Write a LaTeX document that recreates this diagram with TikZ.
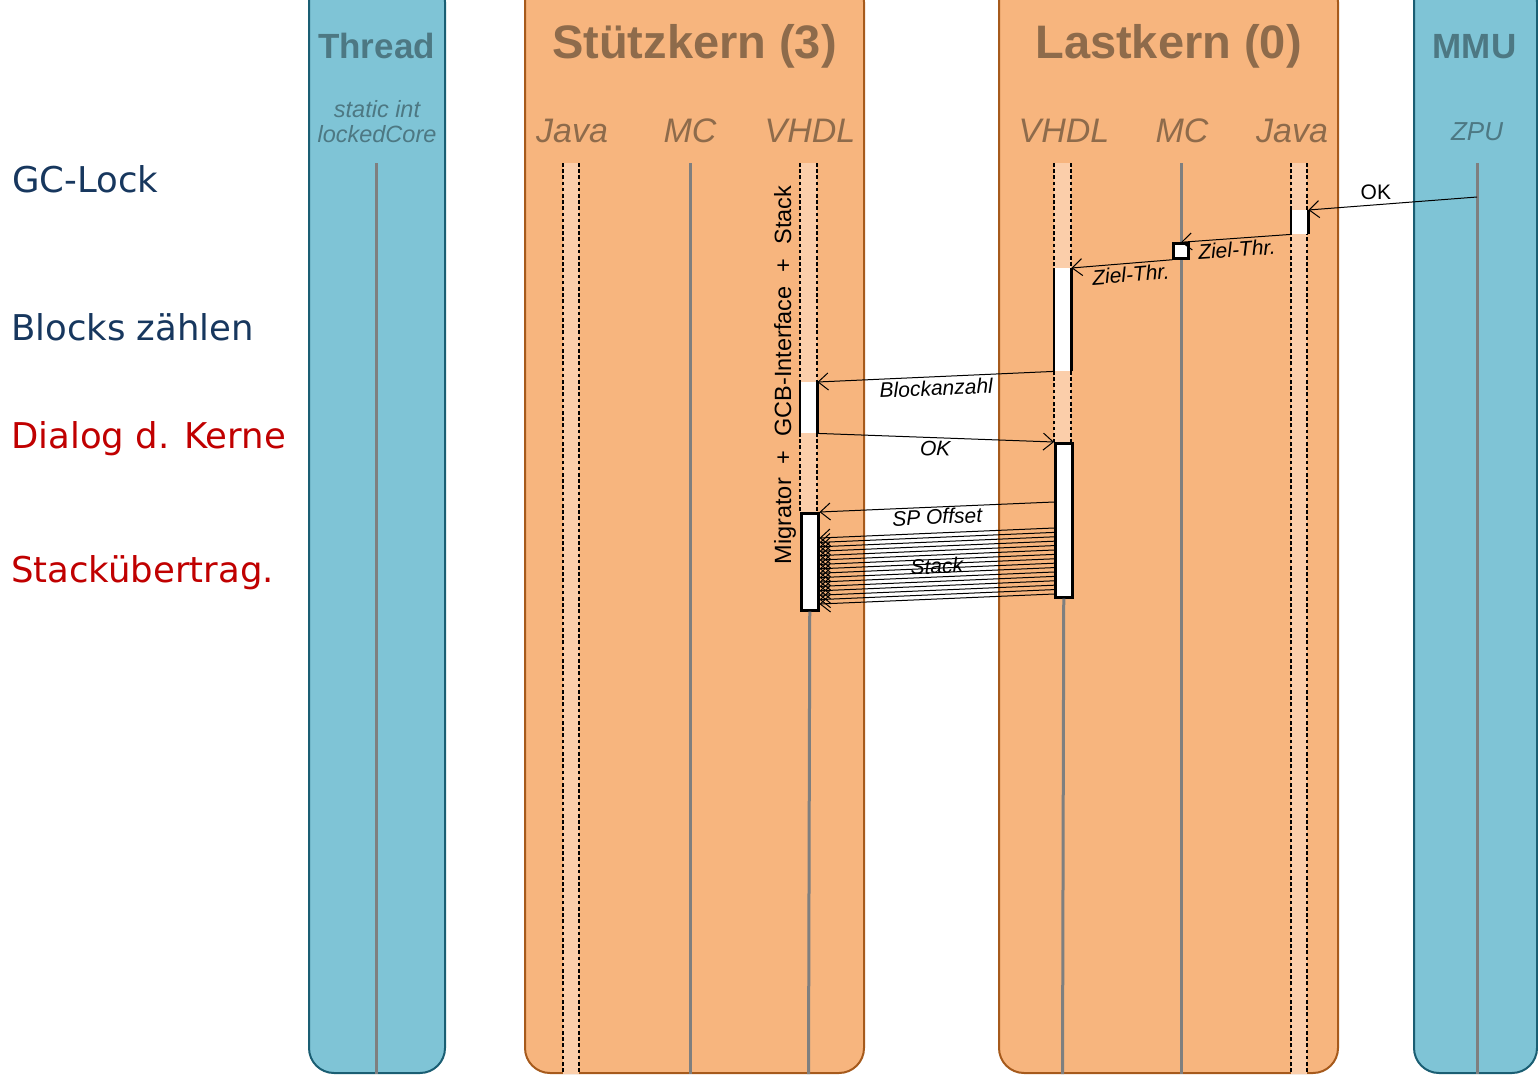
\documentclass[tikz,border=0pt]{standalone}
\usepackage{fontspec}
\setmainfont{Liberation Sans}
\newfontfamily\verd{DejaVu Sans}
\usetikzlibrary{arrows.meta,calc}
\definecolor{bluefill}{HTML}{7FC4D6}
\definecolor{blueedge}{HTML}{1A5E73}
\definecolor{bluetext}{HTML}{4D7883}
\definecolor{orfill}{HTML}{F7B57E}
\definecolor{oredge}{HTML}{A65A1C}
\definecolor{ortext}{HTML}{8E6B4B}
\definecolor{lightfill}{HTML}{FBCEAA}
\definecolor{lifegray}{HTML}{7F7F7F}
\definecolor{navy}{HTML}{17375E}
\definecolor{darkred}{HTML}{C00000}
\begin{document}
\begin{tikzpicture}[x=1pt,y=-1pt,
  bluebox/.style={draw=blueedge, fill=bluefill, line width=2pt, rounded corners=25pt, inner sep=0pt, anchor=south west},
  orbox/.style={draw=oredge, fill=orfill, line width=2pt, rounded corners=25pt, inner sep=0pt, anchor=south west},
  bigtitle/.style={anchor=base, inner sep=0pt, font=\bfseries\fontsize{47}{50}\selectfont, text=ortext},
  smalltitle/.style={anchor=base, inner sep=0pt, font=\bfseries\fontsize{35}{40}\selectfont, text=bluetext},
  partlbl/.style={anchor=base, inner sep=0pt, font=\itshape\fontsize{34}{40}\selectfont, text=ortext},
  bluelbl/.style={anchor=base, inner sep=0pt, font=\itshape\fontsize{23.5}{28}\selectfont, text=bluetext},
  phase/.style={anchor=base west, inner sep=0pt, font=\verd\fontsize{35.5}{40}\selectfont},
  lifeline/.style={draw=lifegray, line width=3pt},
  dotline/.style={draw=black, line width=2.2pt, dash pattern=on 3.6pt off 2.6pt},
  act/.style={fill=white, draw=none, minimum width=17pt, inner sep=0pt, anchor=north west},
  actfull/.style={fill=white, draw=black, line width=2.5pt, minimum width=17pt, inner sep=0pt, anchor=north west},
  actside/.style={draw=black, line width=2.5pt},
  msg/.style={draw=black, line width=1pt, -{Straight Barb[length=10pt,width=17pt]}},
  lbl/.style={font=\itshape\fontsize{21}{24}\selectfont, inner sep=3pt}
]
\useasboundingbox (0,0) rectangle (1538,1076);
\clip (0,0) rectangle (1538,1076);

% containers
\node[bluebox, minimum width=136pt, minimum height=1096pt] (thread) at (308,1074) {};
\node[orbox, minimum width=339pt, minimum height=1096pt] (stuetz) at (524,1074) {};
\node[orbox, minimum width=339pt, minimum height=1096pt] (last) at (998,1074) {};
\node[bluebox, minimum width=123pt, minimum height=1096pt] (mmu) at (1413,1074) {};

% titles
\node[smalltitle] (tThread) at (376.5,58) {Thread};
\node[bigtitle] (tStuetz) at (694.5,58) {Stützkern (3)};
\node[bigtitle] (tLast) at (1168.5,58) {Lastkern (0)};
\node[smalltitle] (tMMU) at (1474.5,58) {MMU};

\node[bluelbl] (tStatic) at (377,117) {static int};
\node[bluelbl] (tLocked) at (377,142) {lockedCore};
\node[partlbl] (sJava) at (572,142) {Java};
\node[partlbl] (sMC) at (690,142) {MC};
\node[partlbl] (sVHDL) at (810,142) {VHDL};
\node[partlbl] (lVHDL) at (1064,142) {VHDL};
\node[partlbl] (lMC) at (1182,142) {MC};
\node[partlbl] (lJava) at (1292,142) {Java};
\node[anchor=base, inner sep=0pt, font=\itshape\fontsize{26}{30}\selectfont, text=bluetext] (zpu) at (1477,140) {ZPU};

% phase labels
\node[phase, text=navy] (p1) at (12,192) {GC-Lock};
\node[phase, text=navy] (p2) at (11,340) {Blocks zählen};
\node[phase, text=darkred] (p3) at (11,448) {Dialog d. Kerne};
\node[phase, text=darkred] (p4) at (11,582) {Stackübertrag.};

% plain lifelines
\draw[lifeline] (376.5,163) -- (376.5,1074);
\draw[lifeline] (690,163) -- (690,1074);
\draw[lifeline] (1181,163) -- (1181,1074);
\draw[lifeline] (1477,163) -- (1477,1074);

% Stuetzkern Java (inactive, dotted)
\fill[lightfill] (563,163) rectangle (579,1074);
\draw[dotline] (563,163) -- (563,1074) (579,163) -- (579,1074);

% Lastkern Java
\fill[lightfill] (1291,163) rectangle (1307,1074);
\draw[dotline] (1291,163) -- (1291,1074) (1307,163) -- (1307,1074);
\node[act, minimum height=24pt] (lj) at (1291,210) {};
\draw[actside] (lj.north west) -- (lj.south west) (lj.north east) -- (lj.south east);

% Stuetzkern VHDL
\fill[lightfill] (800,163) rectangle (817,609);
\draw[dotline] (800,163) -- (800,382) (817,163) -- (817,382)
               (800,433) -- (800,512) (817,433) -- (817,512);
\node[act, minimum height=51pt] (sa1) at (800,382) {};
\draw[actside] (sa1.north west) -- (sa1.south west) (sa1.north east) -- (sa1.south east);
\node[actfull, minimum height=97pt] (sa2) at (800,512) {};
\draw[lifeline] (sa2.south) -- (808.5,1074);

% Lastkern VHDL
\fill[lightfill] (1054,163) rectangle (1071,596);
\draw[dotline] (1054,163) -- (1054,268) (1071,163) -- (1071,268)
               (1054,371) -- (1054,442) (1071,371) -- (1071,442);
\node[act, minimum height=103pt] (la1) at (1054,268) {};
\draw[actside] (la1.north west) -- (la1.south west) (la1.north east) -- (la1.south east);
\node[actfull, minimum height=154pt] (la2) at (1054,442) {};
\draw[lifeline] (la2.south) -- (1062.5,1074);

% MC square
\node[fill=white, draw=black, line width=2.5pt, minimum size=15pt, inner sep=0pt] (sq) at (1181,251) {};

% messages
\coordinate (zpuOK) at (1477,197);
\draw[msg] (zpuOK) -- (lj.north east)
  node[pos=0.6, above, font=\fontsize{21}{24}\selectfont, inner sep=5pt] {OK};
\draw[msg] (lj.south west) -- (sq.north)
  node[lbl, sloped, midway, below] {Ziel-Thr.};
\draw[msg] (sq.south west) -- (la1.north east)
  node[lbl, sloped, pos=0.42, below] {Ziel-Thr.};
\draw[msg] (la1.south west) -- (sa1.north east)
  node[lbl, sloped, midway, below] {Blockanzahl};
\draw[msg] (sa1.south east) -- (la2.north west)
  node[lbl, sloped, midway, below] {OK};
\draw[msg] ($(la2.north west)+(0,60)$) -- (sa2.north east)
  node[lbl, sloped, midway, below, inner sep=1.5pt] {SP Offset};
\foreach \k in {0,...,15}{
  \draw[msg] ($(la2.north west)+(0,86+4.4*\k)$) -- ($(sa2.north east)+(0,26+4.4*\k)$);
}
\path ($(la2.north west)+(0,86+4.4*7.5)$) -- ($(sa2.north east)+(0,26+4.4*7.5)$)
  node[lbl, sloped, midway, inner sep=0pt] (stacklbl) {Stack};

% vertical label
\node[rotate=90, inner sep=0pt, font=\fontsize{23.5}{26}\selectfont] (migr) at (785,375)
  {Migrator\hspace{14pt}+\hspace{14pt}GCB-Interface\hspace{14pt}+\hspace{14pt}Stack};
\end{tikzpicture}
\end{document}
